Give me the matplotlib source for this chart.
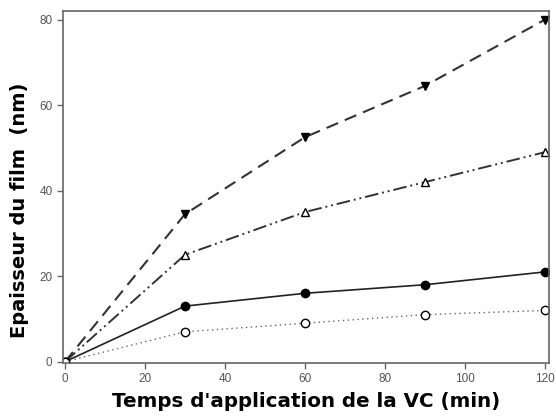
import numpy as np
import matplotlib
matplotlib.use("Agg")
import matplotlib.pyplot as plt

# temps d'application (min)
temps = [0, 30, 60, 90, 120]
# epaisseur du film (nm), une serie par courbe
serie_tri_bas = [0, 34.5, 52.5, 64.5, 80]
serie_tri_haut = [0, 25, 35, 42, 49]
serie_rond_plein = [0, 13, 16, 18, 21]
serie_rond_vide = [0, 7, 9, 11, 12]

fig = plt.figure(figsize=(5.56, 4.17), dpi=100)
ax = fig.add_axes([0.1133, 0.1295, 0.8741, 0.8441])

ax.plot(temps, serie_tri_bas, color="#333333", lw=1.5, ls=(0, (6, 3.5)),
        marker="v", ms=6.3, mfc="black", mec="black")
ax.plot(temps, serie_tri_haut, color="#333333", lw=1.4, ls=(0, (7, 2, 1, 2, 1, 2)),
        marker="^", ms=6, mfc="white", mec="black", mew=1.0)
ax.plot(temps, serie_rond_plein, color="#222222", lw=1.2, ls="-",
        marker="o", ms=6, mfc="black", mec="black")
ax.plot(temps, serie_rond_vide, color="#666666", lw=1.0, ls=(0, (1, 2.5)),
        marker="o", ms=6, mfc="white", mec="black", mew=1.0)

ax.set_xlim(-0.5, 121)
ax.set_ylim(-0.3, 82)
ax.set_xticks([0, 20, 40, 60, 80, 100, 120])
ax.set_yticks([0, 20, 40, 60, 80])

for s in ax.spines.values():
    s.set_color("#666666")
    s.set_linewidth(1.2)
ax.tick_params(direction="out", length=4, width=1, color="#666666",
               labelcolor="#555555", labelsize=8.5)
for lab in ax.get_xticklabels() + ax.get_yticklabels():
    lab.set_family("Liberation Sans")

ax.set_xlabel("Temps d'application de la VC (min)", fontsize=14.3, fontweight="bold", labelpad=5)
ax.set_ylabel("Epaisseur du film  (nm)", fontsize=14, fontweight="bold")
ax.yaxis.set_label_coords(-0.07, 0.435)

fig.savefig("out.png", dpi=100)
